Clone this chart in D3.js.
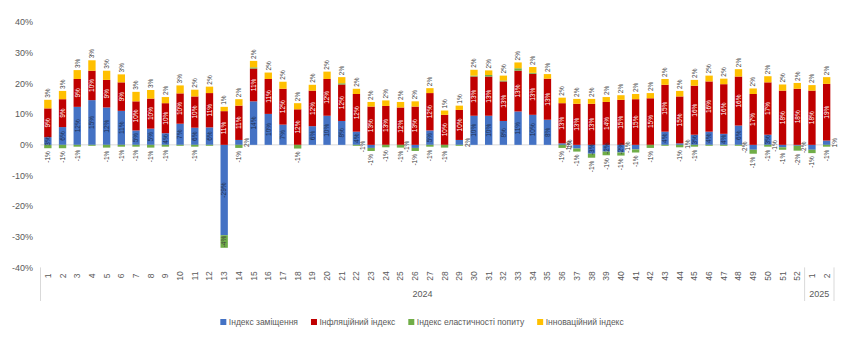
<!DOCTYPE html>
<html>
<head>
<meta charset="utf-8">
<script src="https://cdn.jsdelivr.net/npm/d3@7"></script>
<style>
  body { margin: 0; background: #fff; }
  text { font-family: "Liberation Sans", Arial, sans-serif; }
</style>
</head>
<body>
<div id="chart"></div>
<script>
// week numbers on the x axis, then the year groups they belong to
var weekLabels = ["1","2","3","4","5","6","7","8","9","10","11","12","13","14","15","16","17","18","19","20",
    "21","22","23","24","25","26","27","28","29","30","31","32","33","34","35","36","37","38","39","40",
    "41","42","43","44","45","46","47","48","49","50","51","52","1","2"];
var yearLabels = ["2024", "2025"];
var weeksPerYear = [52, 2];

var seriesNames = ["Індекс заміщення", "Інфляційний індекс", "Індекс еластичності попиту", "Інноваційний індекс"];

// values in %
var zamishchennia = [2.5,5.8,12.4,14.6,12.2,11.1,4.7,5.3,3.8,6.9, 5.6,5.7,-29.5,1.6,14.2,10.1,6.6,0,6.1,9.5,
    7.8,4.3,-1,0,0,-1,4.7,0,1.6,9.5, 9.5,7.8,10.9,9.8,8.2,0.5,-1.2,-2.9,-2.2,-2.5,
    -1.5,0,4.3,0.5,3.3,4.3,3.6,6.3,-1.6,3.3, -0.8,-0.3,-1.6,1.4];
var inflyatsiinyi = [9.4,9.1,9.1,9.6,9.0,9.3,9.5,9.8,9.8,9.9, 10.2,11.2,11,11.2,10.7,11.4,11.7,11.6,11.6,12.0,
    11.9,12.3,12.5,12.7,12.2,12.5,12.2,9.8,9.8,12.8, 12.8,12.9,13.3,13.4,13.4,13.1,13.4,13.4,14.0,14.7,
    14.9,15.2,15.3,15.3,16.0,16.4,16.2,16.0,16.6,17.1, 17.7,18.3,17.7,18.5];
var elastychnist = [-1.1,-1.1,-0.6,-0.3,-0.9,-0.6,-0.6,-0.9,-0.6,-0.3, -0.6,-0.3,-4.1,-1.0,0.4,0,0,-1.2,0,0,
    0.4,-0.3,-1.0,-0.8,-0.9,-1.0,-0.6,-0.9,-0.3,0.3, 0.5,0.3,0.8,0.3,0,-1.0,-1.0,-1.3,-1.2,-1.0,
    -1.0,-1.0,-0.3,-0.8,-0.6,-0.3,-0.3,-0.3,-1.3,-0.6, -0.8,-1.6,-1.1,-0.6];
var innovatsiinyi = [2.8,2.7,2.9,3.4,3.0,2.6,3.1,2.8,2.0,2.6, 2.2,2.1,1.4,2.1,2.1,2.1,2.3,2.0,1.9,2.4,
    2.0,1.7,1.5,1.8,1.8,1.7,1.6,1.4,1.4,1.9, 1.5,1.6,1.9,1.9,1.5,1.8,1.6,1.6,1.6,1.5,
    1.7,1.7,1.9,1.8,1.9,1.9,1.8,2.4,1.8,2.0, 2.0,1.9,1.8,2.2];

var yTicks = [-40, -30, -20, -10, 0, 10, 20, 30, 40];

var width = 850, height = 337;
var keys = ["a", "b", "c", "d"];
var colors = ["#4472C4", "#C00000", "#70AD47", "#FFC000"];
var labelColors = ["#1f2f4f", "#ffffff", "#404040", "#404040"];
var axisGray = "#595959";

// build rows for the stack
var rows = weekLabels.map(function(w, i) {
    return { id: i, week: w, a: zamishchennia[i], b: inflyatsiinyi[i], c: elastychnist[i], d: innovatsiinyi[i] };
});

var x = d3.scaleBand()
    .domain(rows.map(function(d) { return d.id; }))
    .range([40.5, 834])
    .paddingInner(0.5)
    .paddingOuter(0.25);

var y = d3.scaleLinear().domain([-40, 40]).range([267.4, 22.3]);

var stack = d3.stack().keys(keys).offset(d3.stackOffsetDiverging);
var stacked = stack(rows);

var svg = d3.select("#chart").append("svg")
    .attr("width", width)
    .attr("height", height);

// y axis labels
svg.append("g").selectAll("text")
    .data(yTicks)
    .enter().append("text")
    .attr("x", 33)
    .attr("y", function(d) { return y(d); })
    .attr("dy", "0.35em")
    .attr("text-anchor", "end")
    .attr("font-size", 9)
    .attr("fill", axisGray)
    .text(function(d) { return d + "%"; });

// zero line
svg.append("line")
    .attr("x1", 40.5).attr("x2", 834)
    .attr("y1", y(0)).attr("y2", y(0))
    .attr("stroke", "#d9d9d9")
    .attr("stroke-width", 1);

// bars
var layer = svg.append("g").selectAll("g")
    .data(stacked)
    .enter().append("g")
    .attr("fill", function(d, i) { return colors[i]; });

layer.selectAll("rect")
    .data(function(d) { return d; })
    .enter().append("rect")
    .attr("x", function(d) { return x(d.data.id); })
    .attr("width", x.bandwidth())
    .attr("y", function(d) { return y(Math.max(d[0], d[1])); })
    .attr("height", function(d) { return Math.abs(y(d[0]) - y(d[1])); });

// data labels
var labelG = svg.append("g");
stacked.forEach(function(s, si) {
    s.forEach(function(d) {
        var v = d.data[s.key];
        var r = Math.round(v);
        if (r === 0) return;
        var cx = x(d.data.id) + x.bandwidth() / 2;
        var mid = y((d[0] + d[1]) / 2);
        var px = cx, py = mid, anchor = "middle";

        if (si === 0 && Math.abs(v) < 2) {
            px = cx + (v > 0 ? 8 : -8);
        } else if (si === 2 && Math.abs(v) < 2) {
            if (v > 0) return;
            py = y(Math.min(d[0], d[1])) + 3;
            anchor = "end";
        } else if (si === 3) {
            py = y(Math.max(d[0], d[1])) - 2;
            anchor = "start";
        }

        labelG.append("text")
            .attr("transform", "translate(" + px + "," + py + ") rotate(-90)")
            .attr("dy", "0.35em")
            .attr("text-anchor", anchor)
            .attr("font-size", 6.5)
            .attr("fill", (si === 0 && Math.abs(v) < 2) ? "#404040" : labelColors[si])
            .text(r + "%");
    });
});

// category labels
svg.append("g").selectAll("text")
    .data(rows)
    .enter().append("text")
    .attr("transform", function(d) { return "translate(" + (x(d.id) + x.bandwidth() / 2) + ",276) rotate(-90)"; })
    .attr("dy", "0.35em")
    .attr("text-anchor", "middle")
    .attr("font-size", 8.5)
    .attr("fill", axisGray)
    .text(function(d) { return d.week; });

// year groups and separators
var step = x.step();
var start = x.range()[0];
var bounds = [start];
weeksPerYear.forEach(function(n) { bounds.push(bounds[bounds.length - 1] + n * step); });

svg.append("g").selectAll("line")
    .data(bounds)
    .enter().append("line")
    .attr("x1", function(d) { return d; }).attr("x2", function(d) { return d; })
    .attr("y1", 267.4).attr("y2", 301)
    .attr("stroke", "#d9d9d9")
    .attr("stroke-width", 1);

svg.append("g").selectAll("text")
    .data(yearLabels)
    .enter().append("text")
    .attr("x", function(d, i) { return (bounds[i] + bounds[i + 1]) / 2; })
    .attr("y", 294)
    .attr("dy", "0.35em")
    .attr("text-anchor", "middle")
    .attr("font-size", 9)
    .attr("fill", axisGray)
    .text(function(d) { return d; });

// legend, centered
var legend = svg.append("g");
var lx = 0;
seriesNames.forEach(function(name, i) {
    var item = legend.append("g").attr("transform", "translate(" + lx + ",0)");
    item.append("rect")
        .attr("x", 0).attr("y", -3)
        .attr("width", 6).attr("height", 6)
        .attr("fill", colors[i]);
    var t = item.append("text")
        .attr("x", 8.5)
        .attr("y", 0)
        .attr("dy", "0.35em")
        .attr("font-size", 8.5)
        .attr("fill", axisGray)
        .text(name);
    lx += 8.5 + t.node().getComputedTextLength() + 13;
});
lx -= 13;
legend.attr("transform", "translate(" + (width / 2 - lx / 2 - 3) + ",322)");
</script>
</body>
</html>
